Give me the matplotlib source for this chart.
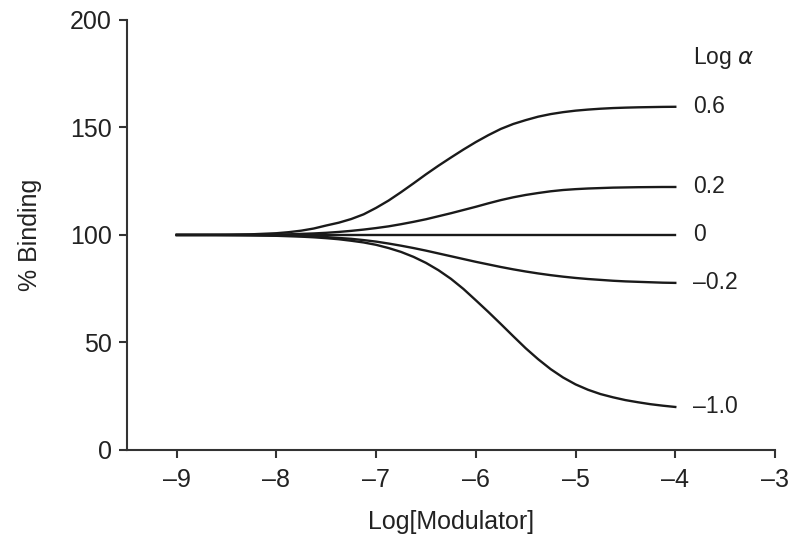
import matplotlib
matplotlib.use("Agg")
import matplotlib.pyplot as plt

plt.rcParams['font.family'] = ['Liberation Sans', 'DejaVu Sans']

log_mod = [-9.0, -8.75, -8.5, -8.25,
           -8.0, -7.875, -7.75, -7.625, -7.5, -7.375, -7.25, -7.125,
           -7.0, -6.875, -6.75, -6.625, -6.5, -6.375, -6.25, -6.125,
           -6.0, -5.875, -5.75, -5.625, -5.5, -5.375, -5.25, -5.125,
           -5.0, -4.875, -4.75, -4.625, -4.5, -4.375, -4.25, -4.125, -4.0]

# % binding for each log alpha
bind_p06 = [100, 100, 100.1, 100.3,
            100.8, 101.3, 102.0, 103.0, 104.4, 105.7, 107.4, 109.6,
            112.6, 116.0, 119.9, 124.0, 128.2, 132.2, 136.0, 139.7,
            143.2, 146.4, 149.3, 151.6, 153.4, 155.0, 156.2, 157.1,
            157.8, 158.3, 158.7, 159.0, 159.2, 159.35, 159.45, 159.55, 159.6]
bind_p02 = [100, 100, 100, 100.1,
            100.2, 100.3, 100.5, 100.7, 101.0, 101.4, 101.9, 102.5,
            103.2, 104.0, 105.0, 106.1, 107.3, 108.7, 110.1, 111.6,
            113.1, 114.7, 116.2, 117.5, 118.6, 119.5, 120.3, 120.9,
            121.3, 121.6, 121.8, 122.0, 122.1, 122.2, 122.25, 122.3, 122.3]
bind_0 = [100] * 37
bind_m02 = [100, 100, 100, 99.9,
            99.8, 99.7, 99.5, 99.3, 99.0, 98.6, 98.2, 97.6,
            96.9, 96.0, 95.0, 93.9, 92.7, 91.4, 90.1, 88.8,
            87.5, 86.3, 85.1, 84.0, 83.0, 82.1, 81.3, 80.6,
            80.0, 79.5, 79.1, 78.7, 78.4, 78.2, 78.0, 77.8, 77.7]
bind_m10 = [100, 100, 99.9, 99.8,
            99.6, 99.4, 99.2, 98.9, 98.5, 98.0, 97.3, 96.5,
            95.4, 93.9, 92.1, 89.8, 87.0, 83.6, 79.6, 74.9,
            69.6, 64.2, 58.6, 52.9, 47.3, 42.2, 37.6, 33.7,
            30.5, 28.0, 26.0, 24.5, 23.2, 22.2, 21.3, 20.6, 20.0]

labels = ["0.6", "0.2", "0", "\u20130.2", "\u20131.0"]
series = [bind_p06, bind_p02, bind_0, bind_m02, bind_m10]

fig = plt.figure(figsize=(7.88, 5.38), dpi=100)
ax = fig.add_axes([0.161, 0.1636, 0.8225, 0.7994])

for ys, lab in zip(series, labels):
    ax.plot(log_mod, ys, color="#1a1a1a", lw=1.7, solid_joinstyle="round")
    ax.text(-3.82, ys[-1], lab, fontsize=16.5, va="center", ha="left", color="#222222")

ax.text(-3.82, 182.5, "Log $\\alpha$", fontsize=16.5, va="center", ha="left", color="#222222")

ax.set_xlim(-9.5, -3)
ax.set_ylim(0, 200)
ax.set_xticks([-9, -8, -7, -6, -5, -4, -3])
ax.set_xticklabels(["\u20139", "\u20138", "\u20137", "\u20136", "\u20135", "\u20134", "\u20133"])
ax.set_yticks([0, 50, 100, 150, 200])
ax.spines['top'].set_visible(False)
ax.spines['right'].set_visible(False)
for s in ['left', 'bottom']:
    ax.spines[s].set_linewidth(1.5)
    ax.spines[s].set_color("#333333")
ax.tick_params(direction='out', length=6, width=1.5, labelsize=18, colors="#333333",
               labelcolor="#222222")
ax.tick_params(axis='x', pad=7)
ax.tick_params(axis='y', pad=5)
ax.set_xlabel("Log[Modulator]", fontsize=18, color="#222222", labelpad=13)
ax.set_ylabel("% Binding", fontsize=18, color="#222222", labelpad=20)

fig.savefig("out.png", dpi=100)
